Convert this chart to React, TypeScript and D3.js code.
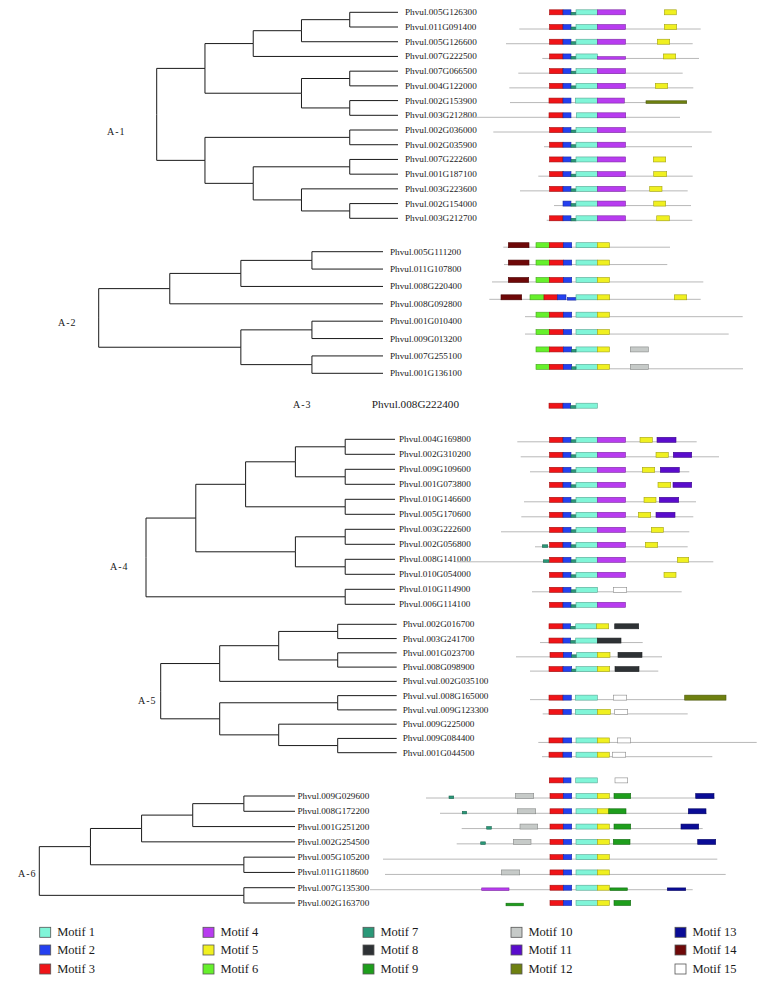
import React from 'react';
import * as d3 from 'd3';

type Tree = string | Tree[];
type Motif = [number, number, number, number?];
type Span = [number, number] | null;

// ---------- motif legend ----------
const motifIds = [1, 2, 3, 4, 5, 6, 7, 8, 9, 10, 11, 12, 13, 14, 15];
const motifColors = ['#80F5D8', '#2440F0', '#F01418', '#B83CF0', '#F0F020', '#66F02C', '#2A9878', '#2E3235', '#1E9E1C', '#C6CAC8', '#5A0CCC', '#6E8010', '#0A0C96', '#6E0808', '#FFFFFF'];
const motifLabels = motifIds.map((i) => `Motif ${i}`);

// ---------- A-1 ----------
const treeA1: Tree = [
  [
    [[['Phvul.005G126300', 'Phvul.011G091400'], 'Phvul.005G126600'], 'Phvul.007G222500'],
    [['Phvul.007G066500', 'Phvul.004G122000'], ['Phvul.002G153900', 'Phvul.003G212800']],
  ],
  [
    ['Phvul.002G036000', 'Phvul.002G035900'],
    [['Phvul.007G222600', 'Phvul.001G187100'], ['Phvul.003G223600', ['Phvul.002G154000', 'Phvul.003G212700']]],
  ],
];
const core4: Motif[] = [[3, 69.5, 83], [2, 83, 91], [7, 91, 96], [1, 96, 117.5], [4, 117.5, 145.5]];
const core1: Motif[] = [[3, 69.5, 83], [2, 83, 91], [7, 91, 96], [1, 96, 117.5]];
const linesA1: Span[] = [null, [39.3, 220.7], [26, 212.7], [62.3, 219], [38.3, 202.7], [29.3, 213.3], [30, 206.7], [-20, 200], [13.3, 231.7], [64, 212], null, [58.3, 212.7], [40, 207.7], [74, 211], [66.7, 212.3]];
const motifsA1: Motif[][] = [
  [...core4, [5, 184.3, 196.3]],
  [...core4, [5, 184.3, 196.7]],
  [...core4, [5, 177.3, 189.7]],
  [...core1, [4, 117.5, 145.5, 1], [5, 183.3, 195.7]],
  [...core4],
  [...core4, [5, 175.3, 187.7]],
  [[3, 69, 83], [2, 83, 91], [1, 95.3, 117.3], [4, 117.3, 144.3], [12, 166, 206.7, 1]],
  [[3, 69, 83], [2, 83, 91], [1, 96.3, 117.3], [4, 117.3, 145.7]],
  [...core4],
  [...core4],
  [...core4, [5, 173.3, 185.7]],
  [...core4, [5, 173.7, 186.7]],
  [...core4, [5, 169.7, 182]],
  [[2, 83, 91], [7, 91, 96], [1, 96, 117.5], [4, 117.5, 145.5], [5, 173.7, 185.7]],
  [...core4, [5, 176.7, 189.3]],
];

// ---------- A-2 ----------
const treeA2: Tree = [
  [[['Phvul.005G111200', 'Phvul.011G107800'], 'Phvul.008G220400'], 'Phvul.008G092800'],
  [['Phvul.001G010400', 'Phvul.009G013200'], ['Phvul.007G255100', 'Phvul.001G136100']],
];
const core2: Motif[] = [[6, 56, 69.3], [3, 69.3, 83.3], [2, 83.3, 91.7], [1, 96, 117.3], [5, 117.3, 129.5]];
const linesA2: Span[] = [[23.3, 190], [24, 187.3], [12, 223.3], [9.3, 220.7], [45, 262.7], [45, 248.7], null, [56, 263]];
const motifsA2: Motif[][] = [
  [[14, 28.3, 49], ...core2],
  [[14, 28.3, 49], ...core2],
  [[14, 28.3, 48.7], ...core2],
  [[14, 21, 41.7], [6, 50, 64], [3, 64, 77.3], [2, 77.3, 86], [2, 87.3, 96, 1], [1, 96, 117.3], [5, 117.3, 129.7], [5, 194.3, 206.7]],
  [...core2],
  [...core2],
  [...core2, [7, 91.7, 96], [10, 150.3, 168.3]],
  [...core2, [7, 91.7, 96], [10, 150.3, 168.3]],
];

// ---------- A-3 ----------
const nameA3 = 'Phvul.008G222400';
const motifsA3: Motif[] = [[3, 69, 83], [2, 83, 90.7], [7, 90.7, 96], [1, 96, 117.3]];

// ---------- A-4 ----------
const treeA4: Tree = [
  [
    [
      [['Phvul.004G169800', 'Phvul.002G310200'], ['Phvul.009G109600', 'Phvul.001G073800']],
      ['Phvul.010G146600', 'Phvul.005G170600'],
    ],
    [['Phvul.003G222600', 'Phvul.002G056800'], ['Phvul.008G141000', 'Phvul.010G054000']],
  ],
  ['Phvul.010G114900', 'Phvul.006G114100'],
];
const linesA4: Span[] = [[37.3, 216.7], [40.7, 239], [50, 209.3], null, [44, 216], [41.3, 213.3], [21, 209.3], [55, 207.7], [-23.3, 233.3], null, [52, 201.7], null];
const motifsA4: Motif[][] = [
  [...core4, [5, 160, 172.3], [11, 177, 196]],
  [...core4, [5, 176, 188.3], [11, 193.3, 211.7]],
  [...core4, [5, 162.3, 174.7], [11, 180.3, 199.3]],
  [...core4, [5, 178, 190.7], [11, 193, 211.7]],
  [...core4, [5, 164, 176], [11, 179.3, 198.7]],
  [...core4, [5, 158.3, 170.7], [11, 176, 195]],
  [...core4, [5, 171.3, 183.3]],
  [[7, 62.3, 67.7], ...core4, [5, 165.3, 177.7]],
  [[7, 63.3, 69], ...core4, [5, 197.3, 208.7]],
  [...core4, [5, 184, 196]],
  [...core1, [15, 133.3, 146.7]],
  [...core4],
];

// ---------- A-5 ----------
const treeA5: Tree = [
  [[['Phvul.002G016700', 'Phvul.003G241700'], ['Phvul.001G023700', 'Phvul.008G098900']], 'Phvul.vul.002G035100'],
  [['Phvul.vul.008G165000', 'Phvul.vul.009G123300'], ['Phvul.009G225000', ['Phvul.009G084400', 'Phvul.001G044500']]],
];
const linesA5: Span[] = [null, [60, 162.7], [36, 182], [50, 178.3], null, [50, 246], [62.7, 207.7], null, [58.3, 276.7], [62, 232.3]];
const motifsA5: Motif[][] = [
  [[3, 69, 83], [2, 83, 90.7], [7, 90.7, 95.7], [1, 95.7, 116.7], [5, 116.7, 128.7], [8, 134.7, 158.7]],
  [[3, 69, 83], [2, 83, 90.7], [7, 90.7, 95.7], [1, 95.7, 117.3], [8, 117.3, 141]],
  [[3, 70, 83.3], [2, 83.3, 91.7], [7, 91.7, 96.7], [1, 96.7, 117.3], [5, 117.3, 130], [8, 138, 162]],
  [[3, 69, 83], [2, 83, 91.7], [7, 91.7, 96], [1, 96, 117.3], [5, 117.3, 129.7], [8, 135, 159]],
  [],
  [[3, 69, 83], [2, 83, 91.3], [1, 95.3, 117.3], [15, 133.3, 146.7], [12, 204.7, 246]],
  [[3, 69, 83], [2, 83, 91.3], [1, 95.3, 117.3], [5, 117.3, 130.3], [15, 134.7, 147.7]],
  [],
  [[3, 69, 83], [2, 83, 91.7], [1, 96, 117.3], [5, 117.3, 129.3], [15, 137.3, 150.7]],
  [[3, 69, 83], [2, 83, 91.7], [1, 96, 117.3], [5, 117.3, 129.3], [15, 132.3, 145.7]],
];
const extraMotifsA5: Motif[] = [[3, 69.3, 83.3], [2, 83.3, 91], [1, 95.7, 117.3], [15, 135, 147.7]];

// ---------- A-6 ----------
const treeA6: Tree = [
  [
    [[['Phvul.009G029600', 'Phvul.008G172200'], 'Phvul.001G251200'], 'Phvul.002G254500'],
    ['Phvul.005G105200', 'Phvul.011G118600'],
  ],
  ['Phvul.007G135300', 'Phvul.002G163700'],
];
const core6: Motif[] = [[3, 70, 83.3], [2, 83.3, 91.7], [1, 96, 117.3], [5, 117.3, 129.3]];
const linesA6: Span[] = [[-54, 235], [-40, 226.7], [-18.3, 222.7], [-23.3, 235], [-97, 237.3], [-95, 245.7], [-110, 212.7], null];
const motifsA6: Motif[][] = [
  [[7, -31, -26.3], [10, 35.3, 53.7], ...core6, [9, 134, 150.7], [13, 215.7, 234]],
  [[7, -17.7, -13.3], [10, 37.3, 55.7], ...core6, [9, 128.7, 146], [13, 208.3, 226]],
  [[7, 6.7, 11.3], [10, 40, 57.7], ...core6, [9, 134, 150.7], [13, 201, 218.7]],
  [[7, 0.7, 5.3], [10, 33.3, 51], ...core6, [9, 133.3, 150], [13, 217.7, 235.7]],
  [...core6],
  [[10, 21.3, 39.7], ...core6],
  [[4, 1.7, 29, 1], ...core6, [9, 130, 147.3, 1], [13, 187.3, 205.7, 1]],
  [[9, 26, 43.3, 1], ...core6, [9, 134, 150.7]],
];

// ---------- layout (positions / styles, separate from data) ----------
const W = 765;
const H = 983;
const FONT = "'Liberation Serif', 'Times New Roman', serif";

const clades = [
  { id: 'A-1', tree: treeA1, lines: linesA1, motifs: motifsA1, leafX: 398, rootX: 156.7, y0: 12.3, y1: 218.3, gap: 7, shift: 0, lx: 107, ly: 131 },
  { id: 'A-2', tree: treeA2, lines: linesA2, motifs: motifsA2, leafX: 383, rootX: 98.7, y0: 251.7, y1: 373.3, gap: 7, shift: -6.5, lx: 58, ly: 322.7 },
  { id: 'A-4', tree: treeA4, lines: linesA4, motifs: motifsA4, leafX: 395, rootX: 146, y0: 439.3, y1: 604.3, gap: 4, shift: 0.5, lx: 110, ly: 566 },
  { id: 'A-5', tree: treeA5, lines: linesA5, motifs: motifsA5, leafX: 396.7, rootX: 160.7, y0: 624.3, y1: 752.7, gap: 6, shift: 2, lx: 138, ly: 700 },
  { id: 'A-6', tree: treeA6, lines: linesA6, motifs: motifsA6, leafX: 295, rootX: 39.3, y0: 796, y1: 903, gap: 2.5, shift: 0, lx: 18, ly: 873 },
];

const motifX = d3.scaleLinear().domain([0, 285]).range([480, 765]);
const colorOf = d3.scaleOrdinal<number, string>().domain(motifIds).range(motifColors);

function strokeOf(id: number) {
  if (id === 15) return '#8a8a8a';
  const c = d3.color(colorOf(id));
  return c ? c.darker(1.1).formatHex() : '#444';
}

function MotifRow({ y, line, motifs, k }: { y: number; line: Span; motifs: Motif[]; k: string }) {
  return (
    <g key={k}>
      {line && (
        <line x1={motifX(line[0])} x2={motifX(line[1])} y1={y + 2} y2={y + 2} stroke="#b8b8b8" strokeWidth={1} />
      )}
      {motifs.map((m, i) => {
        const [id, s, e, thin] = m;
        let top = y - 2.5;
        let h = 5;
        if (id === 7) { top = y; h = 2.6; }
        if (thin) { top = y + 0.2; h = 2.6; }
        return (
          <rect key={i} x={motifX(s)} y={top} width={Math.max(0.5, motifX(e) - motifX(s))} height={h}
            fill={colorOf(id)} stroke={strokeOf(id)} strokeWidth={0.6} />
        );
      })}
    </g>
  );
}

function Clade({ c }: { c: (typeof clades)[number] }) {
  const root = d3.hierarchy<Tree>(c.tree, (d) => (Array.isArray(d) ? d : null));
  const leaves = root.leaves();
  const yScale = d3.scaleLinear().domain([0, leaves.length - 1]).range([c.y0, c.y1]);
  const xScale = d3.scaleLinear().domain([0, root.height]).range([c.leafX, c.rootX]);
  const pos = new Map<any, { x: number; y: number }>();
  leaves.forEach((l, i) => pos.set(l, { x: xScale(0), y: yScale(i) }));
  root.eachAfter((n) => {
    if (n.children) {
      const ys = n.children.map((ch) => pos.get(ch)!.y);
      pos.set(n, { x: xScale(n.height), y: (ys[0] + ys[ys.length - 1]) / 2 });
    }
  });
  const path = d3.path();
  root.descendants().forEach((n) => {
    if (!n.parent) return;
    const p = pos.get(n.parent)!;
    const q = pos.get(n)!;
    path.moveTo(p.x, p.y);
    path.lineTo(p.x, q.y);
    path.lineTo(q.x, q.y);
  });
  return (
    <g>
      <path d={path.toString()} fill="none" stroke="#1a1a1a" strokeWidth={1} />
      {leaves.map((l, i) => (
        <text key={i} x={xScale(0) + c.gap} y={yScale(i)} dominantBaseline="central" fontSize={9.2} fill="#1a1a1a" fontFamily={FONT}>
          {l.data as string}
        </text>
      ))}
      <text x={c.lx} y={c.ly} dominantBaseline="central" fontSize={10} letterSpacing={1} fill="#1a1a1a" fontFamily={FONT}>{c.id}</text>
      {leaves.map((l, i) => (
        <MotifRow key={'m' + i} k={'m' + i} y={yScale(i) + c.shift} line={c.lines[i]} motifs={c.motifs[i]} />
      ))}
      {c.id === 'A-5' && (
        <MotifRow k="extra" y={yScale(10.8) + c.shift} line={null} motifs={extraMotifsA5} />
      )}
    </g>
  );
}

const legendColX = [39.7, 203, 363, 511, 675];
const legendRowY = [932.3, 950, 969];

export default function App() {
  return (
    <svg width={W} height={H} viewBox={`0 0 ${W} ${H}`} style={{ position: 'absolute', left: 0, top: 0, background: '#fff' }}>
      <rect x={0} y={0} width={W} height={H} fill="#fff" />
      {clades.map((c) => (
        <Clade key={c.id} c={c} />
      ))}
      {/* A-3 single gene */}
      <text x={293} y={404} dominantBaseline="central" fontSize={10} letterSpacing={1} fill="#1a1a1a" fontFamily={FONT}>A-3</text>
      <text x={371.7} y={404} dominantBaseline="central" fontSize={11.2} fill="#1a1a1a" fontFamily={FONT}>{nameA3}</text>
      <MotifRow k="a3" y={405.7} line={null} motifs={motifsA3} />
      {/* legend */}
      {motifIds.map((id, i) => {
        const col = Math.floor(i / 3);
        const row = i % 3;
        const y = legendRowY[row];
        return (
          <g key={id}>
            <rect x={legendColX[col]} y={y - 5} width={11} height={10} fill={colorOf(id)} stroke="#555" strokeWidth={0.8} />
            <text x={legendColX[col] + 17.5} y={y} dominantBaseline="central" fontSize={12.5} fill="#1a1a1a" fontFamily={FONT}>
              {motifLabels[i]}
            </text>
          </g>
        );
      })}
    </svg>
  );
}
